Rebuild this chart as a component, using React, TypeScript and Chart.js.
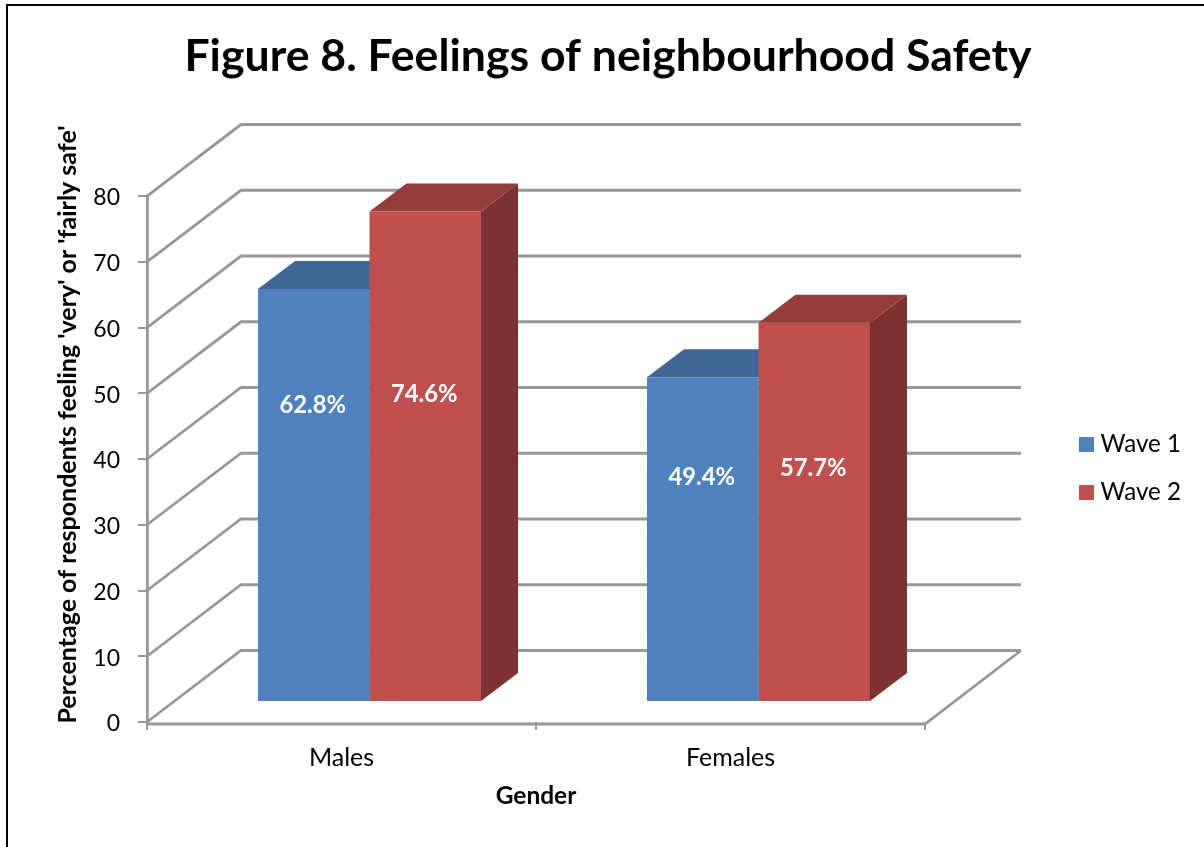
import React, { useEffect, useRef } from "react";
import { Chart, registerables } from "chart.js";

Chart.register(...registerables);

const categories = ["Males", "Females"];
const wave1 = [62.8, 49.4];
const wave2 = [74.6, 57.7];
const seriesNames = ["Wave 1", "Wave 2"];
const yTicks = [0, 10, 20, 30, 40, 50, 60, 70, 80];
const chartTitle = "Figure 8. Feelings of neighbourhood Safety";
const yTitle = "Percentage of respondents feeling 'very' or 'fairly safe'";
const xTitle = "Gender";
// height on the value axis at which each data label sits
const labelHeights = [
  [45.1, 34.2],
  [46.8, 35.5],
];

const FONT = "Lato, Carlito, Calibri, sans-serif";
const GRID = "#989898";
const FRONT = ["#4F81BD", "#C0504D"];
const TOP = ["#3F6694", "#953D3A"];
const SIDE = ["#335478", "#7D3230"];
const WALL = { dx: 94, dy: -71.5, rightExtra: 2 };
const BAR_SHIFT = { dx: 28, dy: -20 };
const BAR_DEPTH = { dx: 37, dy: -28 };

const poly = (ctx: CanvasRenderingContext2D, pts: number[][], fill: string) => {
  ctx.beginPath();
  pts.forEach(([x, y], i) => (i ? ctx.lineTo(x, y) : ctx.moveTo(x, y)));
  ctx.closePath();
  ctx.fillStyle = fill;
  ctx.fill();
};

const frame3d = {
  id: "frame3d",
  beforeDraw(chart: any) {
    const { ctx, width, height } = chart;
    ctx.save();
    ctx.fillStyle = "#fff";
    ctx.fillRect(0, 0, width, height);
    ctx.fillStyle = "#000";
    ctx.fillRect(6, 4, width - 6, 2);
    ctx.fillRect(6, 4, 2, height - 4);
    ctx.restore();
  },
  beforeDatasetsDraw(chart: any) {
    const { ctx, scales, chartArea } = chart;
    const y = scales.y;
    const left = chartArea.left;
    const right = chartArea.right;
    const backRight = right + WALL.dx + WALL.rightExtra;
    ctx.save();
    ctx.strokeStyle = GRID;
    ctx.lineWidth = 2.8;
    ctx.lineJoin = "miter";
    for (const v of yTicks) {
      const py = y.getPixelForValue(v);
      ctx.beginPath();
      ctx.moveTo(left, py);
      ctx.lineTo(left + WALL.dx, py + WALL.dy);
      ctx.lineTo(backRight, py + WALL.dy);
      ctx.stroke();
    }
    const b = y.getPixelForValue(0);
    ctx.beginPath();
    ctx.moveTo(left, b + 2);
    ctx.lineTo(right, b + 2);
    ctx.lineTo(backRight, b + WALL.dy);
    ctx.stroke();
    ctx.restore();

    ctx.save();
    ctx.translate(BAR_SHIFT.dx, BAR_SHIFT.dy);
    [0, 1].forEach((d) => {
      chart.getDatasetMeta(d).data.forEach((el: any) => {
        const { x, y: top, width: w, base } = el.getProps(["x", "y", "width", "base"], true);
        const l = x - w / 2;
        const r = x + w / 2;
        const { dx, dy } = BAR_DEPTH;
        poly(ctx, [[l, top], [r, top], [r + dx, top + dy], [l + dx, top + dy]], TOP[d]);
        poly(ctx, [[r, top], [r + dx, top + dy], [r + dx, base + dy], [r, base]], SIDE[d]);
      });
    });
  },
  afterDatasetsDraw(chart: any) {
    const { ctx, scales } = chart;
    ctx.font = `bold 23.8px ${FONT}`;
    ctx.fillStyle = "#fff";
    ctx.textAlign = "center";
    ctx.textBaseline = "middle";
    [0, 1].forEach((d) => {
      chart.getDatasetMeta(d).data.forEach((el: any, i: number) => {
        const val = chart.data.datasets[d].data[i];
        ctx.fillText(`${val.toFixed(1)}%`, el.x - 1, scales.y.getPixelForValue(labelHeights[d][i]));
      });
    });
    ctx.restore();
  },
  afterDraw(chart: any) {
    const { ctx } = chart;
    ctx.save();
    ctx.fillStyle = "#000";
    // vertical axis title
    ctx.translate(68, 424.5);
    ctx.rotate(-Math.PI / 2);
    ctx.font = `bold 25px ${FONT}`;
    ctx.textAlign = "center";
    ctx.textBaseline = "middle";
    ctx.fillText(yTitle, 0, 0);
    ctx.restore();

    // legend
    ctx.save();
    chart.data.datasets.forEach((ds: any, i: number) => {
      const cy = 444.5 + i * 48;
      ctx.fillStyle = ds.backgroundColor;
      ctx.fillRect(1079, cy - 7.5, 15, 15);
      ctx.fillStyle = "#000";
      ctx.font = `24.2px ${FONT}`;
      ctx.textAlign = "left";
      ctx.textBaseline = "middle";
      ctx.fillText(ds.label, 1100.5, cy);
    });
    ctx.restore();
  },
};

export default function App() {
  const ref = useRef<HTMLCanvasElement>(null);
  useEffect(() => {
    const chart = new Chart(ref.current as HTMLCanvasElement, {
      type: "bar",
      plugins: [frame3d],
      data: {
        labels: categories,
        datasets: [
          { label: seriesNames[0], data: wave1, backgroundColor: FRONT[0], clip: false },
          { label: seriesNames[1], data: wave2, backgroundColor: FRONT[1], clip: false },
        ],
      } as any,
      options: {
        responsive: false,
        animation: false,
        devicePixelRatio: 1,
        layout: { padding: { left: 12, right: 0, top: 0, bottom: 0 } },
        datasets: { bar: { categoryPercentage: 0.5733, barPercentage: 1 } },
        plugins: {
          legend: { display: false },
          tooltip: { enabled: false },
          title: {
            display: true,
            text: chartTitle,
            color: "#000",
            font: { family: FONT, size: 44.6, weight: "bold", lineHeight: 1.2 },
            padding: { top: 30, bottom: 112.5 },
          },
        },
        scales: {
          x: {
            grid: {
              offset: true,
              drawOnChartArea: false,
              drawTicks: true,
              tickLength: 8,
              color: GRID,
              lineWidth: 2,
            },
            border: { display: false },
            ticks: { color: "#000", font: { family: FONT, size: 25 }, padding: 12.5, maxRotation: 0 },
            title: {
              display: true,
              text: xTitle,
              color: "#000",
              font: { family: FONT, size: 24.5, weight: "bold" },
              padding: { top: 0, bottom: 36 },
            },
            afterFit(s: any) {
              s.height = 125;
            },
          },
          y: {
            min: 0,
            max: 80,
            afterBuildTicks(s: any) {
              s.ticks = yTicks.map((value) => ({ value }));
            },
            grid: { drawOnChartArea: false, tickLength: 9, color: GRID, lineWidth: 2 },
            border: { color: GRID, width: 2.8 },
            ticks: { color: "#000", font: { family: FONT, size: 23 }, padding: 18, labelOffset: 2 },
            afterFit(s: any) {
              s.width = 135;
            },
          },
          // empty axis reserving the room on the right where the legend sits
          rightRoom: {
            type: "linear",
            position: "right",
            display: true,
            grid: { display: false },
            border: { display: false },
            ticks: { display: false },
            afterFit(s: any) {
              s.width = 279;
            },
          },
        },
      } as any,
    });
    return () => chart.destroy();
  }, []);
  return (
    <canvas
      ref={ref}
      width={1204}
      height={847}
      style={{ position: "absolute", left: 0, top: 0, display: "block" }}
    />
  );
}
